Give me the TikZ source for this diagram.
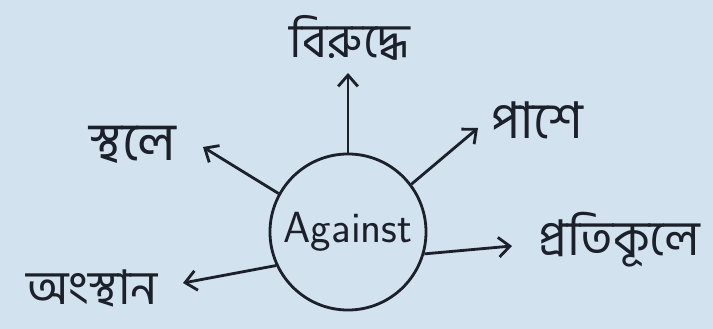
\documentclass[tikz,border=0pt]{standalone}
\usepackage{fontspec}
\newfontfamily\bnfont[Script=Bengali]{Hind Siliguri}
\usetikzlibrary{arrows.meta}
\definecolor{paper}{RGB}{210,226,238}
\definecolor{ink}{RGB}{28,32,42}

\begin{document}
\begin{tikzpicture}[x=0.025cm, y=-0.025cm, line width=2pt, color=ink,
	arr/.style={-{Straight Barb[length=8pt,width=14pt]}},
	word/.style={font=\bnfont, inner sep=0pt}]
	\fill [paper] (0,0) rectangle (713,329);
	\useasboundingbox (0,0) rectangle (713,329);
	\node [circle, draw, minimum size=3.9cm, inner sep=0pt, font=\sffamily\fontsize{31}{34}\selectfont] (hub) at (348,232) {Against};
	
	\foreach \i/\ang/\tx/\ty/\wx/\wy/\fs/\txt in {
		1/90/348/73/350/38/34/বিরুদ্ধে,
		2/37/478/128/537/120/36/পাশে,
		3/344/512/246/619/240/35/প্রতিকূলে,
		4/151/203/147/133/145/38/স্থলে,
		5/205/183/283/92/288/34/অংস্থান
	}
	{
		\node [word] (word\i) at (\wx,\wy) {\fontsize{\fs}{\fs}\selectfont\txt};
		\coordinate (tip\i) at (\tx,\ty);
		\draw [arr] (hub.\ang) -- (tip\i);
	}
\end{tikzpicture}
\end{document}
